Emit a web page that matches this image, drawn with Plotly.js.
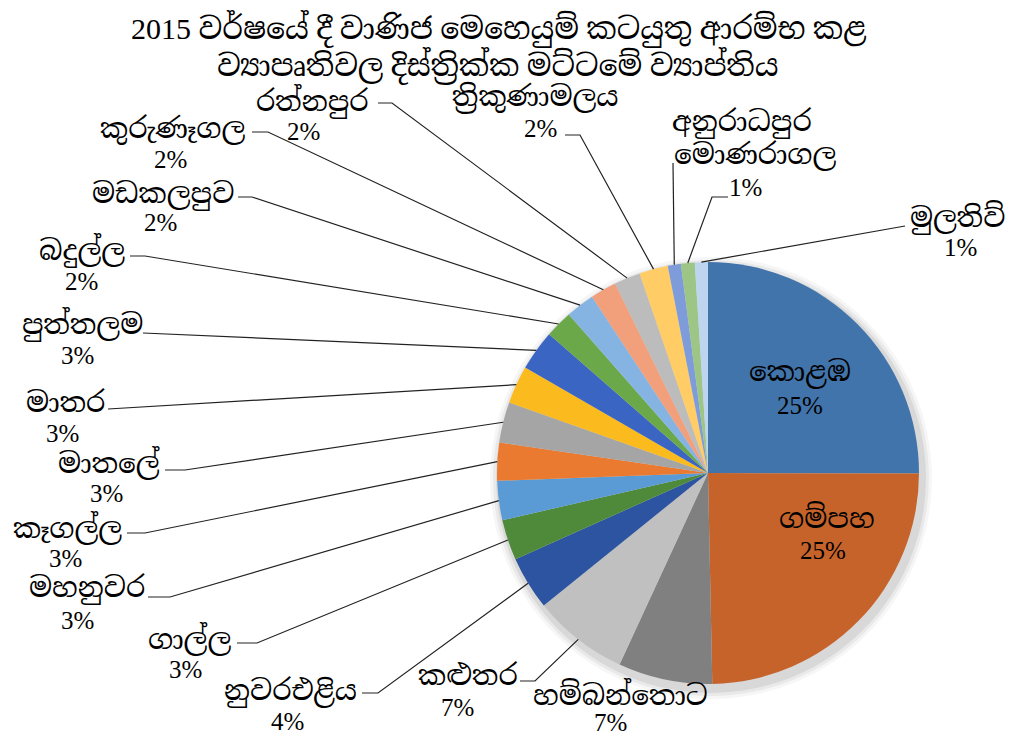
<!DOCTYPE html>
<html>
<head>
<meta charset="utf-8">
<script src="https://cdn.plot.ly/plotly-3.0.1.min.js"></script>
<style>html,body{margin:0;padding:0;background:#fff}#chart{width:1024px;height:738px}</style>
</head>
<body>
<div id="chart"></div>
<script>
// ---- data (clockwise from 12 o'clock) ----
const districts = ['කොළඹ','ගම්පහ','හම්බන්තොට','කළුතර','නුවරඑළිය','ගාල්ල','මහනුවර','කෑගල්ල','මාතලේ','මාතර','පුත්තලම','බදුල්ල','මඩකලපුව','කුරුණෑගල','රත්නපුර','ත්‍රිකුණාමලය','අනුරාධපුර','මොණරාගල','මුලතිව්'];
const shares = [25.0, 24.6, 7.2, 7.3, 4.1, 3.1, 3.0, 2.9, 3.1, 2.9, 3.1, 2.1, 2.2, 2.0, 2.0, 2.2, 1.0, 1.05, 1.0];
const titleLine1 = '2015 වර්ෂයේ දී වාණිජ මෙහෙයුම් කටයුතු ආරම්භ කළ';
const titleLine2 = 'ව්‍යාපෘතිවල දිස්ත්‍රික්ක මට්ටමේ ව්‍යාප්තිය';

// ---- styling / layout ----
const sliceColors = ['#4174AA','#C5632B','#808080','#C0C0C0','#2D54A0','#4E8A3A','#5A9BD5','#EA7A30','#A5A5A5','#FBBA1E','#3B65C2','#6BA84A','#85B4E3','#F2A07C','#BCBCBC','#FFCC66','#7F9CDA','#9DC585','#BDD5EF'];
const W = 1024, H = 738;
const CX = 708, CY = 473, R = 211;
// name centres and percentage centres (px); null = not shown
const namePos = [[800,372],[827,517],[620,694],[468,675],[290,691],[189,638],[87,588],[67,527],[109,462],[65,402],[82,324],[82,250],[163,194],[172,129],[312,101],[535,98],[742,122],[755,155],[957,217]];
const pctPos  = [[800,405],[823,550],[610,722],[457,707],[287,721],[185,669],[77,620],[65,558],[106,493],[62,433],[77,356],[81,281],[160,223],[170,159],[303,132],[540,128],null,[745,187],[960,247]];
// leader line start: [xStart, xElbow, y] (px); null = no leader
const leaders = [null,null,null,[520,535,681],[362,378,693],[237,257,643],[148,170,597],[127,145,533],[165,185,470],[108,108,409],[143,143,333],[130,145,256],[238,252,197],[252,268,132],[378,392,103],[565,580,135],[673,673,163],[728,712,197],[905,905,226]];

const FONT = '"Liberation Serif", "Noto Serif Sinhala", "Noto Sans Sinhala", serif';
const px = x => x / W, py = y => 1 - y / H;

const total = shares.reduce((a,b)=>a+b,0);
const annotations = [];
const shapes = [];

// title as two centred lines
[[titleLine1, 29],[titleLine2, 66]].forEach(([t,y])=>{
  annotations.push({xref:'paper', yref:'paper', x:px(498), y:py(y), xanchor:'center', yanchor:'middle',
    text:t, showarrow:false, font:{family:FONT, size:30, color:'#000'}});
});

// soft drop shadow
[[10,0.035],[7,0.05],[4,0.07]].forEach(([g,a])=>{
  shapes.push({type:'circle', xref:'paper', yref:'paper', layer:'below',
    x0:px(CX-R-g+3), x1:px(CX+R+g+3), y0:py(CY+R+g+5), y1:py(CY-R-g+5),
    fillcolor:'rgba(0,0,0,'+a+')', line:{width:0}});
});

let cum = 0;
districts.forEach((d,i)=>{
  const mid = 2*Math.PI*(cum + shares[i]/2)/total;
  cum += shares[i];
  const pct = Math.round(shares[i]/total*100) + '%';
  const [nx,ny] = namePos[i];
  annotations.push({xref:'paper', yref:'paper', x:px(nx), y:py(ny), xanchor:'center', yanchor:'middle',
    text:d, showarrow:false, font:{family:FONT, size:28, color:'#000'}});
  if (pctPos[i]) {
    const [qx,qy] = pctPos[i];
    annotations.push({xref:'paper', yref:'paper', x:px(qx), y:py(qy), xanchor:'center', yanchor:'middle',
      text:pct, showarrow:false, font:{family:FONT, size:25, color:'#000'}});
  }
  const L = leaders[i];
  if (L) {
    const ex = CX + R*Math.sin(mid), ey = CY - R*Math.cos(mid);
    shapes.push({type:'path', xref:'paper', yref:'paper',
      path:'M'+px(L[0])+','+py(L[2])+' L'+px(L[1])+','+py(L[2])+' L'+px(ex)+','+py(ey),
      line:{color:'#222', width:1.2}});
  }
});

const trace = {
  type:'pie', labels:districts, values:shares, sort:false, direction:'clockwise', rotation:0,
  marker:{colors:sliceColors, line:{width:0}}, textinfo:'none', hoverinfo:'label+percent',
  domain:{x:[px(CX-R), px(CX+R)], y:[py(CY+R), py(CY-R)]}, showlegend:false
};

const layout = {
  width:W, height:H, margin:{l:0,r:0,t:0,b:0}, paper_bgcolor:'#fff',
  annotations, shapes, showlegend:false
};

Plotly.newPlot('chart',[trace],layout,{displayModeBar:false, staticPlot:true});
</script>
</body>
</html>
